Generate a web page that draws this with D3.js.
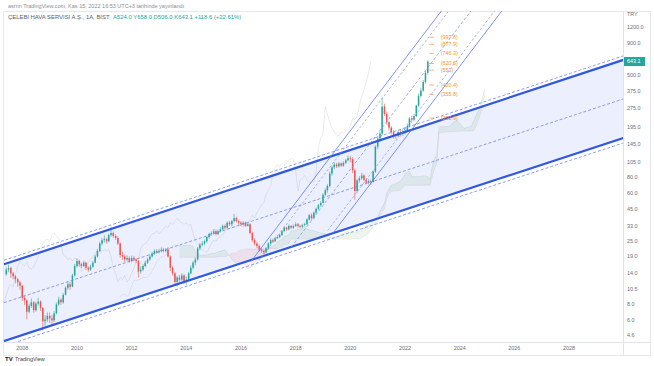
<!DOCTYPE html>
<html>
<head>
<meta charset="utf-8">
<script src="https://cdn.jsdelivr.net/npm/d3@7"></script>
<style>
body { margin: 0; background: #fff; }
svg { display: block; font-family: "Liberation Sans", Arial, sans-serif; }
</style>
</head>
<body>
<div id="chart"></div>
<script>
// monthly bars, first one is June 2007
const startYear = 2007, startMonth = 5;
const firstOpen = 13.8;

const closes = [
  15.0, 15.4, 14.0, 13.3, 12.6, 11.9, 11.2,
  9.0, 8.6, 7.0, 7.8, 8.3, 7.2, 8.1, 8.4, 7.5, 5.9, 6.1, 6.5,
  6.2, 6.0, 6.8, 8.0, 8.7, 8.3, 9.5, 10.8, 11.5, 11.0, 13.5, 16.0,
  17.5, 16.5, 16.0, 17.0, 15.5, 15.0, 15.8, 17.0, 19.0, 21.0, 24.0, 25.5,
  26.0, 25.0, 28.0, 29.0, 27.5, 26.5, 24.0, 19.5, 19.0, 18.0, 18.5, 17.5,
  18.5, 18.0, 17.5, 14.5, 15.0, 16.0, 17.0, 18.0, 19.0, 20.0, 21.0, 20.5,
  21.0, 21.5, 21.0, 21.5, 19.0, 15.5, 14.0, 12.0, 13.0, 12.5, 13.5, 12.0,
  12.5, 14.0, 15.5, 17.0, 18.0, 22.0, 23.5, 24.0, 25.0, 27.0, 28.5, 29.0,
  30.0, 28.5, 30.0, 31.0, 33.0, 32.0, 35.0, 34.0, 36.0, 38.0, 36.0, 35.0,
  34.0, 35.0, 33.0, 34.0, 29.0, 25.5, 24.0, 23.0, 21.5, 21.0, 20.5, 22.0,
  24.0, 25.5, 25.0, 26.5, 27.0, 28.0, 30.0, 32.0, 31.0, 33.0, 32.0, 33.0,
  34.0, 33.0, 32.5, 33.5, 34.0, 37.0, 40.0, 38.0, 42.0, 45.0, 48.0, 50.0,
  58.0, 63.0, 68.0, 85.0, 95.0, 100.0, 97.0, 102.0, 98.0, 103.0, 108.0, 112.0,
  110.0, 90.0, 62.0, 75.0, 78.0, 82.0, 76.0, 72.0, 74.0, 73.0, 88.0, 138.0,
  160.0, 175.0, 285.0, 250.0, 215.0, 195.0, 180.0, 170.0, 168.0, 180.0, 175.0, 182.0,
  185.0, 200.0, 230.0, 225.0, 240.0, 290.0, 345.0, 380.0, 445.0, 524.5, 643.1
];
const highs = [
  15.6, 16.4, 15.8, 14.4, 13.6, 12.9, 12.2,
  11.4, 9.4, 8.8, 8.1, 8.9, 8.5, 8.4, 9.0, 8.6, 7.6, 6.6, 6.9,
  6.9, 6.6, 7.1, 8.3, 9.2, 9.0, 9.8, 11.1, 12.0, 12.0, 13.9, 16.6,
  18.3, 17.9, 17.0, 17.6, 17.3, 15.9, 16.4, 17.6, 19.6, 21.8, 24.8, 26.5,
  27.8, 26.7, 28.8, 32.5, 29.8, 28.3, 27.4, 24.6, 20.7, 19.7, 19.4, 19.1,
  19.3, 19.2, 18.4, 17.8, 15.9, 16.5, 17.6, 18.6, 19.7, 20.7, 21.6, 21.7,
  21.8, 22.4, 22.2, 22.1, 22.5, 19.4, 16.0, 14.4, 13.4, 13.6, 14.0, 13.8,
  13.2, 14.4, 16.2, 17.5, 18.6, 22.6, 24.2, 25.1, 25.8, 27.6, 29.1, 30.0,
  31.2, 31.0, 30.8, 32.1, 33.8, 33.9, 35.8, 36.1, 36.8, 41.0, 39.0, 37.0,
  36.0, 35.8, 35.7, 34.8, 34.6, 29.8, 26.4, 24.8, 23.6, 22.2, 21.6, 22.6,
  24.6, 26.3, 26.2, 27.1, 27.9, 28.6, 30.7, 32.8, 32.6, 33.8, 33.6, 33.8,
  35.2, 34.8, 33.6, 34.3, 35.0, 37.9, 41.0, 41.5, 43.0, 46.0, 49.0, 51.5,
  59.5, 65.0, 70.0, 88.0, 98.0, 104.0, 103.0, 105.0, 104.0, 106.0, 111.0, 118.0,
  117.0, 114.0, 93.0, 77.0, 81.0, 86.0, 84.0, 78.0, 77.0, 76.0, 90.0, 142.0,
  168.0, 182.0, 335.0, 300.0, 260.0, 220.0, 200.0, 186.0, 175.0, 186.0, 190.0, 190.0,
  198.0, 210.0, 236.0, 242.0, 250.0, 295.0, 360.0, 400.0, 460.0, 545.0, 658.0
];
const lows = [
  13.4, 14.3, 12.9, 12.6, 11.7, 11.0, 10.4,
  8.5, 7.9, 6.1, 6.8, 7.5, 6.9, 7.0, 7.8, 7.1, 5.0, 5.4, 5.8,
  5.7, 5.5, 5.8, 6.7, 7.8, 7.9, 8.1, 9.4, 10.4, 10.4, 10.9, 13.2,
  15.6, 15.8, 15.4, 15.7, 14.9, 14.4, 14.6, 15.5, 16.8, 18.6, 20.6, 23.2,
  24.4, 23.9, 24.6, 27.2, 26.5, 25.6, 23.4, 18.6, 17.9, 17.1, 17.4, 17.0,
  17.1, 17.5, 16.8, 13.0, 13.9, 14.6, 15.6, 16.6, 17.6, 18.6, 19.6, 19.9,
  20.1, 20.5, 20.4, 20.5, 18.6, 14.6, 13.5, 11.2, 11.0, 12.0, 12.2, 11.6,
  11.4, 12.1, 13.8, 15.0, 16.2, 17.6, 21.2, 22.8, 23.3, 24.3, 26.2, 27.6,
  28.3, 27.8, 27.9, 29.4, 30.4, 31.2, 31.5, 32.9, 33.0, 35.1, 35.2, 33.8,
  33.0, 33.2, 32.4, 32.6, 28.4, 24.6, 23.2, 22.1, 20.8, 20.3, 19.8, 20.2,
  21.6, 23.6, 24.4, 24.6, 26.0, 26.4, 27.5, 29.6, 30.2, 30.5, 31.3, 31.2,
  32.4, 32.1, 31.6, 31.8, 32.8, 33.6, 36.3, 36.4, 37.2, 41.0, 43.9, 46.8,
  49.5, 56.5, 60.0, 66.0, 82.0, 92.0, 94.0, 95.0, 96.0, 96.0, 101.0, 106.0,
  104.0, 86.0, 53.0, 60.0, 72.0, 76.0, 74.0, 70.0, 70.0, 69.0, 72.0, 86.0,
  132.0, 150.0, 170.0, 240.0, 205.0, 185.0, 172.0, 160.0, 158.0, 164.0, 166.0, 168.0,
  172.0, 180.0, 196.0, 212.0, 218.0, 236.0, 284.0, 336.0, 372.0, 430.0, 506.0
];

const priceTicks = [4.6, 6, 8, 10.5, 14, 19, 25, 33, 45, 60, 80, 105, 145, 195, 275, 375, 500, 900, 1200];
const yearTicks = [2008, 2010, 2012, 2014, 2016, 2018, 2020, 2022, 2024, 2026, 2028];

// big rising channel (log-linear), start / end anchors
const mainDates = ["2007-05-01", "2030-01-01"];
const mainUpper = [16.5, 664];
const mainLower = [4.12, 162];

// steep channel lines [date, price] pairs
const steepLeft = [["2016-05-15", 17.4], ["2024-01-01", 2477]];
const steepMid = [["2017-11-06", 22.6], ["2025-01-01", 2355]];
const steepRight = [["2019-05-11", 28.8], ["2026-01-01", 2160]];

// orange target levels next to the last bar
const targetLevels = [997.6, 877.9, 746.3, 620.6, 551, 420.4, 355.8, 231.9];
const targetLabels = ["(997.6)", "(877.9)", "(746.3)", "(620.6)", "(551)", "(420.4)", "(355.8)", "(231.9)"];

const headerTop = "asrnn TradingView.com, Kas 15, 2022 16:53 UTC+3 tarihinde yayınlandı";
const symbolName = "ÇELEBI HAVA SERVISI A.Ş., 1A, BIST";
const ohlcText = "A524.0 Y658.0 D506.0 K643.1 +118.6 (+22.61%)";

const W = 654, H = 366;
const plot = {left: 3, right: 623, top: 11, bottom: 342};
const green = "#26a69a", red = "#ef5350";

const svg = d3.select("#chart").append("svg")
  .attr("width", W).attr("height", H);

svg.append("rect").attr("width", W).attr("height", H).attr("fill", "#fff");

const x = d3.scaleTime()
  .domain([new Date(2010, 0, 1), new Date(2028, 0, 1)])
  .range([77, 569]);
const y = d3.scaleLog()
  .domain([4.6, 1200])
  .range([335, 27]);

const bars = closes.map(function(c, i) {
  return {
    date: new Date(startYear, startMonth + i, 1),
    open: i === 0 ? firstOpen : closes[i - 1],
    high: highs[i], low: lows[i], close: c
  };
});
const monthDate = function(i) { return new Date(startYear, startMonth + i, 1); };

// ichimoku (9, 26, 52, 26)
function midRange(n, i) {
  if (i < n - 1) return null;
  return (d3.max(highs.slice(i - n + 1, i + 1)) + d3.min(lows.slice(i - n + 1, i + 1))) / 2;
}
const shift = 25;
const spanA = [], spanB = [];
bars.forEach(function(b, i) {
  const t = midRange(9, i), k = midRange(26, i), s = midRange(52, i);
  if (t !== null && k !== null) spanA[i + shift] = (t + k) / 2;
  if (s !== null) spanB[i + shift] = s;
});

// frame
svg.append("rect")
  .attr("x", plot.left + 0.5).attr("y", plot.top + 0.5)
  .attr("width", 650 - plot.left).attr("height", 355 - plot.top)
  .attr("fill", "none").attr("stroke", "#e6e8ee");

svg.append("clipPath").attr("id", "plotClip")
  .append("rect")
  .attr("x", plot.left).attr("y", plot.top)
  .attr("width", plot.right - plot.left).attr("height", plot.bottom - plot.top);

const g = svg.append("g").attr("clip-path", "url(#plotClip)");

// channel fill
const pD = mainDates.map(function(d) { return new Date(d); });
g.append("path")
  .attr("d", "M" + x(pD[0]) + "," + y(mainUpper[0]) +
    "L" + x(pD[1]) + "," + y(mainUpper[1]) +
    "L" + x(pD[1]) + "," + y(mainLower[1]) +
    "L" + x(pD[0]) + "," + y(mainLower[0]) + "Z")
  .attr("fill", "rgba(40,80,230,0.09)");

// cloud
for (let j = 0; j < spanA.length - 1; j++) {
  if (spanA[j] == null || spanB[j] == null || spanA[j + 1] == null || spanB[j + 1] == null) continue;
  const x0 = x(monthDate(j)), x1 = x(monthDate(j + 1));
  g.append("path")
    .attr("d", "M" + x0 + "," + y(spanA[j]) + "L" + x1 + "," + y(spanA[j + 1]) +
      "L" + x1 + "," + y(spanB[j + 1]) + "L" + x0 + "," + y(spanB[j]) + "Z")
    .attr("fill", spanA[j] >= spanB[j] ? "rgba(90,170,100,0.11)" : "rgba(239,83,80,0.09)");
}
const spanLine = d3.line()
  .defined(function(d) { return d != null; })
  .x(function(d, i) { return x(monthDate(i)); })
  .y(function(d) { return y(d); });
g.append("path").attr("d", spanLine(Array.from(spanA)))
  .attr("fill", "none").attr("stroke", "rgba(130,170,130,0.3)").attr("stroke-width", 0.6);
g.append("path").attr("d", spanLine(Array.from(spanB)))
  .attr("fill", "none").attr("stroke", "rgba(200,140,140,0.25)").attr("stroke-width", 0.6);

// lagging span
g.append("path")
  .attr("d", d3.line()
    .x(function(d, i) { return x(monthDate(i - shift)); })
    .y(function(d) { return y(d); })(closes))
  .attr("fill", "none").attr("stroke", "rgba(150,160,150,0.3)").attr("stroke-width", 0.7);

// candles
const candle = g.selectAll(".candle").data(bars).enter().append("g");
candle.append("line")
  .attr("x1", function(d) { return x(d.date); })
  .attr("x2", function(d) { return x(d.date); })
  .attr("y1", function(d) { return y(d.high); })
  .attr("y2", function(d) { return y(d.low); })
  .attr("stroke", function(d) { return d.close >= d.open ? green : red; })
  .attr("stroke-width", 0.6);
candle.append("rect")
  .attr("x", function(d) { return x(d.date) - 0.75; })
  .attr("width", 1.5)
  .attr("y", function(d) { return y(Math.max(d.open, d.close)); })
  .attr("height", function(d) { return Math.max(0.6, Math.abs(y(d.open) - y(d.close))); })
  .attr("fill", function(d) { return d.close >= d.open ? green : red; });

// main channel lines
function segPath(p0, p1) {
  return "M" + x(p0[0]) + "," + y(p0[1]) + "L" + x(p1[0]) + "," + y(p1[1]);
}
const upSeg = [[pD[0], mainUpper[0]], [pD[1], mainUpper[1]]];
const loSeg = [[pD[0], mainLower[0]], [pD[1], mainLower[1]]];
const midSeg = [[pD[0], Math.sqrt(mainUpper[0] * mainLower[0])], [pD[1], Math.sqrt(mainUpper[1] * mainLower[1])]];

g.append("path").attr("d", segPath(upSeg[0], upSeg[1]))
  .attr("transform", "translate(0,-4)")
  .attr("stroke", "#6d87ec").attr("stroke-width", 0.8).attr("stroke-dasharray", "3,2").attr("fill", "none");
g.append("path").attr("d", segPath(loSeg[0], loSeg[1]))
  .attr("transform", "translate(0,5)")
  .attr("stroke", "#6d87ec").attr("stroke-width", 0.8).attr("stroke-dasharray", "3,2").attr("fill", "none");
g.append("path").attr("d", segPath(midSeg[0], midSeg[1]))
  .attr("stroke", "#6d87ec").attr("stroke-width", 0.8).attr("stroke-dasharray", "3,2").attr("fill", "none");
[upSeg, loSeg].forEach(function(s) {
  g.append("path").attr("d", segPath(s[0], s[1]))
    .attr("stroke", "#2f57e0").attr("stroke-width", 2.2).attr("fill", "none");
});

// steep channel
function pts(a) { return [[new Date(a[0][0]), a[0][1]], [new Date(a[1][0]), a[1][1]]]; }
const sl = pts(steepLeft), sm = pts(steepMid), sr = pts(steepRight);
g.append("path").attr("d", segPath(sl[0], sl[1]))
  .attr("stroke", "#5a78e8").attr("stroke-width", 0.8).attr("fill", "none");
g.append("path").attr("d", segPath(sl[0], sl[1]))
  .attr("transform", "translate(5,3)")
  .attr("stroke", "#8299ee").attr("stroke-width", 0.7).attr("stroke-dasharray", "2.5,2").attr("fill", "none");
g.append("path").attr("d", segPath(sm[0], sm[1]))
  .attr("stroke", "#8299ee").attr("stroke-width", 0.8).attr("stroke-dasharray", "3,2").attr("fill", "none");
g.append("path").attr("d", segPath(sr[0], sr[1]))
  .attr("stroke", "#5a78e8").attr("stroke-width", 0.8).attr("fill", "none");
g.append("path").attr("d", segPath(sr[0], sr[1]))
  .attr("transform", "translate(-5,-3)")
  .attr("stroke", "#8299ee").attr("stroke-width", 0.7).attr("stroke-dasharray", "2.5,2").attr("fill", "none");

// target levels
const lastX = x(bars[bars.length - 1].date);
targetLevels.forEach(function(v, i) {
  g.append("line")
    .attr("x1", lastX + 1.5).attr("x2", lastX + 6)
    .attr("y1", y(v)).attr("y2", y(v))
    .attr("stroke", "#f5a04a").attr("stroke-width", 0.8);
  g.append("text")
    .attr("x", lastX + 13).attr("y", y(v))
    .attr("dy", "0.35em")
    .attr("font-size", 5.4).attr("fill", "#f0962e")
    .text(targetLabels[i]);
});

// axes lines
svg.append("line").attr("x1", plot.right + 0.5).attr("x2", plot.right + 0.5)
  .attr("y1", plot.top).attr("y2", 355).attr("stroke", "#e0e3eb");
svg.append("line").attr("x1", plot.left).attr("x2", 650)
  .attr("y1", plot.bottom + 0.5).attr("y2", plot.bottom + 0.5).attr("stroke", "#e0e3eb");

// price scale
svg.append("g").selectAll("text").data(priceTicks).enter().append("text")
  .attr("x", 627).attr("y", function(d) { return y(d); })
  .attr("dy", "0.35em")
  .attr("font-size", 5.4).attr("fill", "#6a6d78")
  .text(function(d) { return d3.format(".1f")(d); });
svg.append("text").attr("x", 627).attr("y", 16)
  .attr("font-size", 5.4).attr("fill", "#6a6d78").text("TRY");

const lastClose = closes[closes.length - 1];
svg.append("rect").attr("x", 624).attr("y", y(lastClose) - 4.5)
  .attr("width", 21).attr("height", 9).attr("fill", green);
svg.append("text").attr("x", 627).attr("y", y(lastClose)).attr("dy", "0.35em")
  .attr("font-size", 5.4).attr("fill", "#fff").text(d3.format(".1f")(lastClose));

// time scale
svg.append("g").selectAll("text").data(yearTicks).enter().append("text")
  .attr("x", function(d) { return x(new Date(d, 0, 1)); })
  .attr("y", 350)
  .attr("text-anchor", "middle")
  .attr("font-size", 5.4).attr("fill", "#6a6d78")
  .text(function(d) { return d; });

// header
svg.append("text").attr("x", 8).attr("y", 8)
  .attr("font-size", 5.5).attr("fill", "#8a8d96").text(headerTop);
const h2 = svg.append("text").attr("x", 8).attr("y", 18.5).attr("font-size", 5.9);
h2.append("tspan").attr("fill", "#5d606b").text(symbolName);
h2.append("tspan").attr("dx", 4).attr("fill", green).text(ohlcText);

// footer logo
svg.append("text").attr("x", 5).attr("y", 361)
  .attr("font-size", 6).attr("font-weight", "bold").attr("fill", "#131722").text("TV");
svg.append("text").attr("x", 15).attr("y", 361)
  .attr("font-size", 5.4).attr("fill", "#3a3d47").text("TradingView");
</script>
</body>
</html>
